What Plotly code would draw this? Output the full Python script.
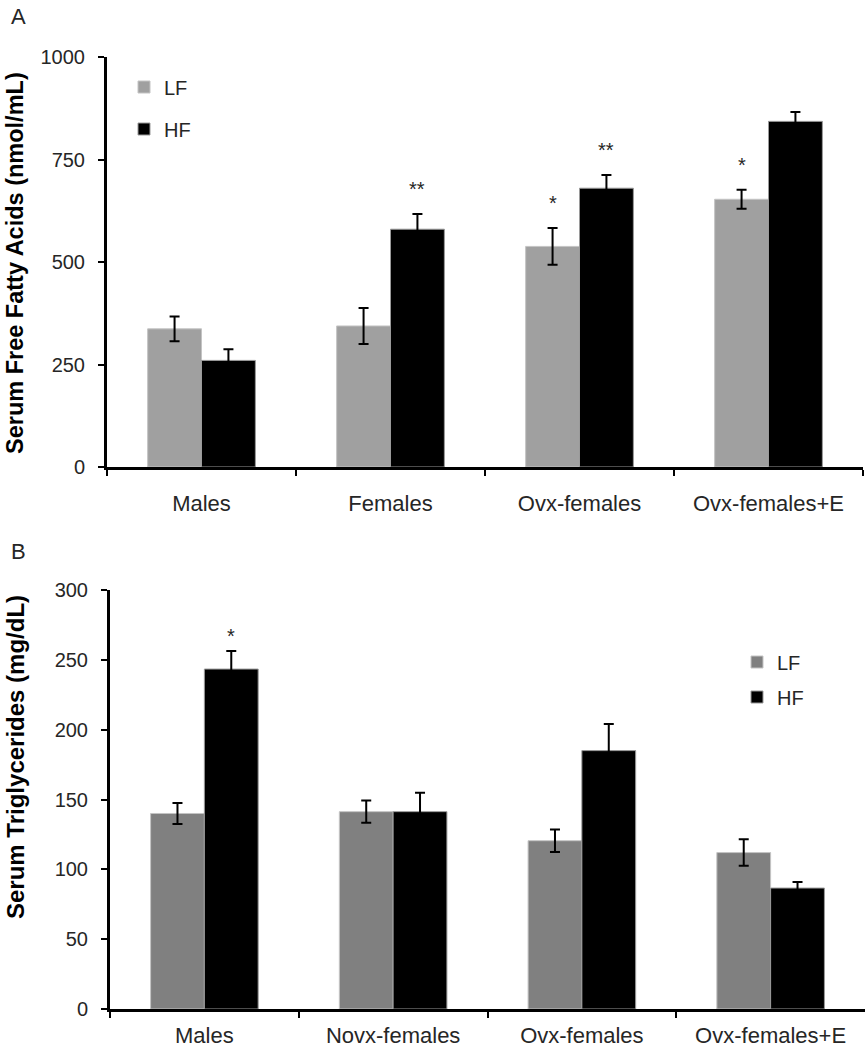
import plotly.graph_objects as go

# ---------------- data ----------------
cats_a = ["Males", "Females", "Ovx-females", "Ovx-females+E"]
ffa_lf = [337, 344, 538, 653]
ffa_lf_err = [30, 44, 45, 23]
ffa_hf = [260, 580, 680, 843]
ffa_hf_err = [27, 37, 32, 23]
ffa_lf_sig = ["", "", "*", "*"]
ffa_hf_sig = ["", "**", "**", ""]

cats_b = ["Males", "Novx-females", "Ovx-females", "Ovx-females+E"]
tg_lf = [140, 141.3, 120.5, 112]
tg_lf_err = [7.5, 8, 8, 9.5]
tg_hf = [243.4, 141.3, 185, 86.6]
tg_hf_err = [13, 13.6, 19, 4.3]
tg_lf_sig = ["", "", "", ""]
tg_hf_sig = ["*", "", "", ""]

ffa_ticks = [0, 250, 500, 750, 1000]
tg_ticks = [0, 50, 100, 150, 200, 250, 300]

FONT = "Liberation Sans, Arial, sans-serif"
TXT = "#262626"
BARGAP = 0.43
HALF = (1 - BARGAP) / 4  # offset of each bar centre from category centre

fig = go.Figure()

def add_bars(xaxis, yaxis, cats, lf, lfe, hf, hfe, lf_color, leg_lf, leg_hf):
    fig.add_trace(go.Bar(
        x=cats, y=lf, name="LF", xaxis=xaxis, yaxis=yaxis,
        marker=dict(color=lf_color, line=dict(color="#c4c4c4", width=1)),
        error_y=dict(type="data", array=lfe, visible=True, color="black", thickness=2, width=5),
        legend=leg_lf, showlegend=True,
    ))
    fig.add_trace(go.Bar(
        x=cats, y=hf, name="HF", xaxis=xaxis, yaxis=yaxis,
        marker=dict(color="black", line=dict(color="#9a9a9a", width=1)),
        error_y=dict(type="data", array=hfe, visible=True, color="black", thickness=2, width=5),
        legend=leg_hf, showlegend=True,
    ))

add_bars("x", "y", cats_a, ffa_lf, ffa_lf_err, ffa_hf, ffa_hf_err, "#a0a0a0", "legend", "legend2")
add_bars("x2", "y2", cats_b, tg_lf, tg_lf_err, tg_hf, tg_hf_err, "#808080", "legend3", "legend4")

annotations = []

def add_stars(xref, yref, vals, errs, sigs, sign, shift):
    for i, (v, e, s) in enumerate(zip(vals, errs, sigs)):
        if s:
            annotations.append(dict(
                x=i + sign * HALF, y=v + e, xref=xref, yref=yref, text=s,
                showarrow=False, yanchor="middle", yshift=shift,
                font=dict(family=FONT, size=20, color=TXT),
            ))

add_stars("x", "y", ffa_lf, ffa_lf_err, ffa_lf_sig, -1, 25)
add_stars("x", "y", ffa_hf, ffa_hf_err, ffa_hf_sig, 1, 25)
add_stars("x2", "y2", tg_lf, tg_lf_err, tg_lf_sig, -1, 15)
add_stars("x2", "y2", tg_hf, tg_hf_err, tg_hf_sig, 1, 15)

# axis titles and panel letters
annotations += [
    dict(text="<b>Serum Free Fatty Acids (nmol/mL)</b>", x=15 / 868, y=1 - 263 / 1050,
         xref="paper", yref="paper", textangle=-90, showarrow=False,
         xanchor="center", yanchor="middle", font=dict(family=FONT, size=23.5, color="black")),
    dict(text="<b>Serum Triglycerides (mg/dL)</b>", x=15 / 868, y=1 - 757 / 1050,
         xref="paper", yref="paper", textangle=-90, showarrow=False,
         xanchor="center", yanchor="middle", font=dict(family=FONT, size=24, color="black")),
    dict(text="A", x=9 / 868, y=1 - 16 / 1050, xref="paper", yref="paper", showarrow=False,
         xanchor="left", yanchor="middle", font=dict(family=FONT, size=22, color=TXT)),
    dict(text="B", x=9 / 868, y=1 - 551 / 1050, xref="paper", yref="paper", showarrow=False,
         xanchor="left", yanchor="middle", font=dict(family=FONT, size=22, color=TXT)),
]

xaxis_common = dict(
    type="category", range=[-0.5, 3.5], showline=True, linecolor="black", linewidth=3,
    ticks="outside", tickson="boundaries", ticklen=6, tickwidth=2, tickcolor="black",
    showgrid=False, zeroline=False, automargin=False,
    tickfont=dict(family=FONT, size=22, color=TXT), fixedrange=True,
)
yaxis_common = dict(
    showline=True, linecolor="black", linewidth=3, ticks="outside", ticklen=6,
    tickwidth=2, tickcolor="black", showgrid=False, zeroline=False, automargin=False,
    ticklabelstandoff=9, tickfont=dict(family=FONT, size=20, color=TXT), fixedrange=True,
)

legend_common = dict(
    bgcolor="rgba(0,0,0,0)", borderwidth=0, xanchor="left", yanchor="middle",
    font=dict(family=FONT, size=20, color=TXT), itemclick=False, itemdoubleclick=False,
)

fig.update_layout(
    width=868, height=1050, autosize=False,
    margin=dict(l=0, r=0, t=0, b=0, autoexpand=False),
    paper_bgcolor="white", plot_bgcolor="white",
    barmode="group", bargap=BARGAP, bargroupgap=0,
    xaxis=dict(domain=[107 / 868, 863 / 868], anchor="y", ticklabelstandoff=15, **xaxis_common),
    yaxis=dict(domain=[1 - 467 / 1050, 1 - 57 / 1050], anchor="x", range=[0, 1000],
               tickvals=ffa_ticks, **yaxis_common),
    xaxis2=dict(domain=[110 / 868, 865 / 868], anchor="y2", ticklabelstandoff=5, **xaxis_common),
    yaxis2=dict(domain=[1 - 1009 / 1050, 1 - 590 / 1050], anchor="x2", range=[0, 300],
                tickvals=tg_ticks, **yaxis_common),
    legend=dict(x=124 / 868, y=1 - 87 / 1050, **legend_common),
    legend2=dict(x=124 / 868, y=1 - 129 / 1050, **legend_common),
    legend3=dict(x=737 / 868, y=1 - 662 / 1050, **legend_common),
    legend4=dict(x=737 / 868, y=1 - 697 / 1050, **legend_common),
    annotations=annotations,
    showlegend=True,
)

fig.write_html("out.html", config={"displayModeBar": False},
               post_script="document.body.style.margin='0';")
